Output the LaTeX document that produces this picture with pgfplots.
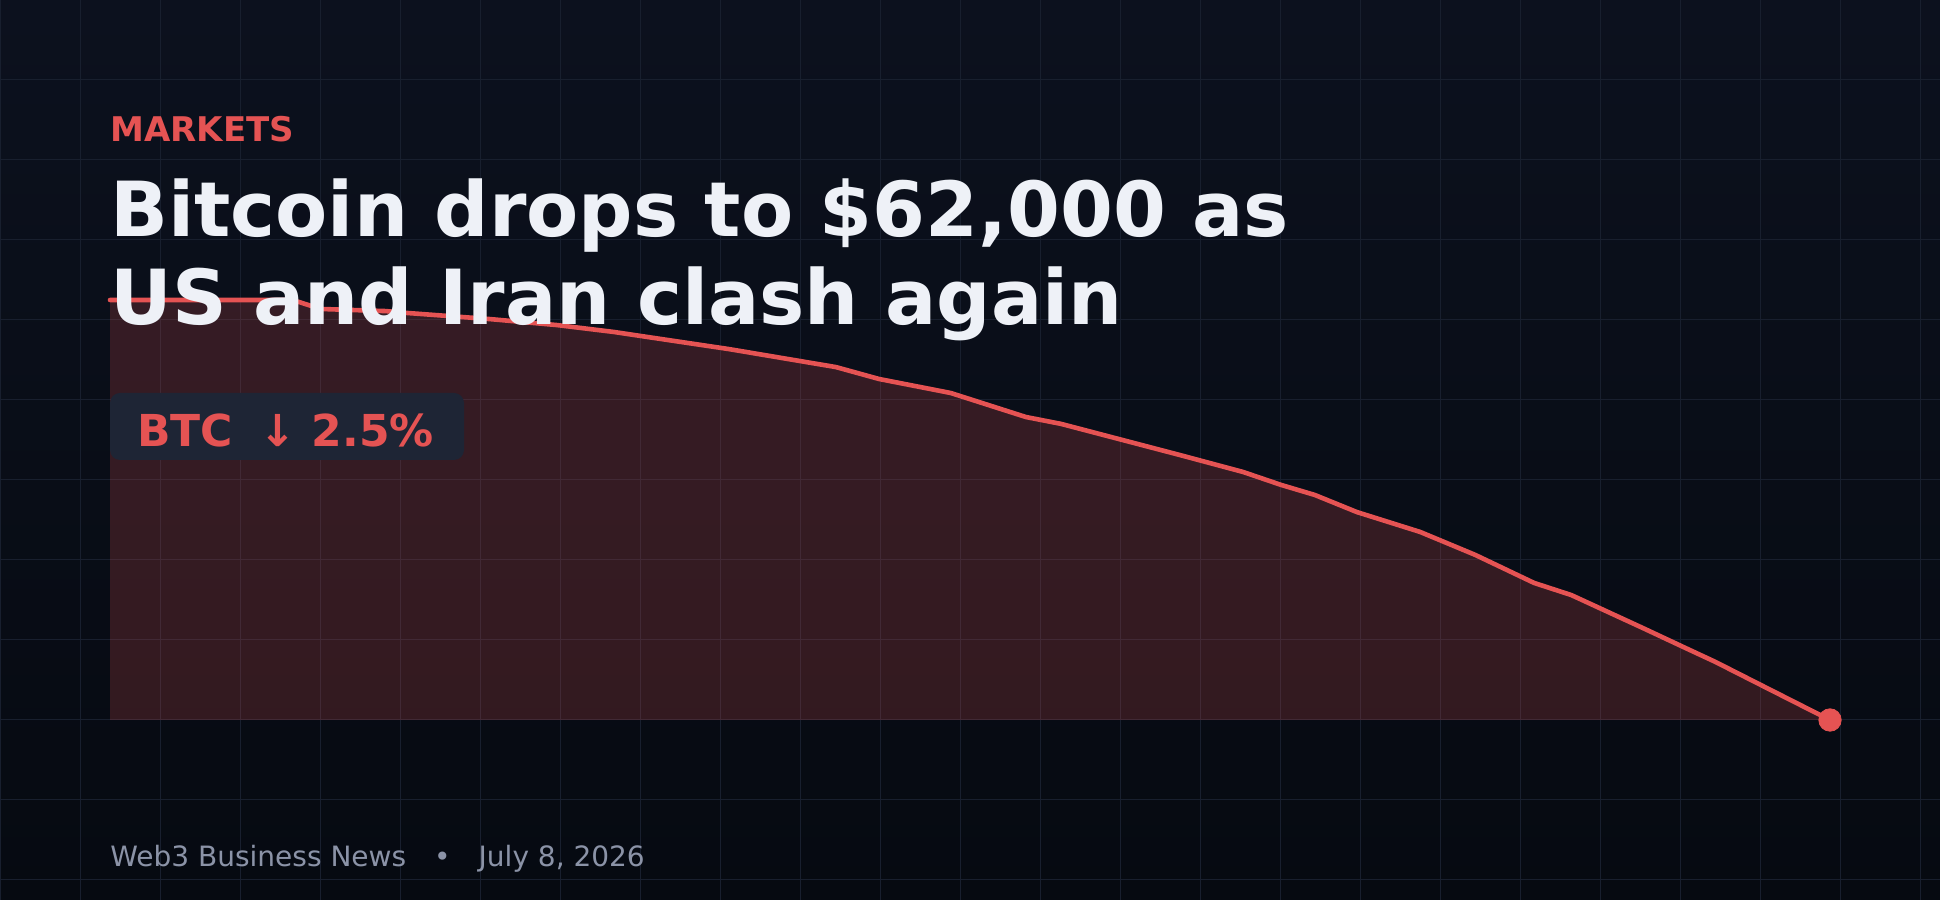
\documentclass[border=0pt]{standalone}
\usepackage{fontspec}
\setmainfont{DejaVu Sans}
\usepackage{pgfplots}
\pgfplotsset{compat=1.18}
\usepackage{pgfplotstable}

\definecolor{bgtop}{RGB}{12,17,30}
\definecolor{bgbot}{RGB}{6,10,17}
\definecolor{gridc}{RGB}{24,31,46}
\definecolor{btcred}{RGB}{229,83,83}
\definecolor{titlec}{RGB}{238,241,247}
\definecolor{badge}{RGB}{30,37,53}
\definecolor{footc}{RGB}{139,147,167}

% BTC price over the day (hours, USD)
\pgfplotstableread{
t     price
0     63590
2.55  63590
2.94  63556
3.85  63548
4.14  63541
5.29  63518
6.24  63495
7.03  63469
7.40  63454
8.64  63404
10.13 63336
10.73 63291
11.73 63238
12.78 63147
13.27 63121
14.93 63003
15.81 62939
16.34 62890
16.81 62852
17.40 62787
18.28 62712
19.05 62625
19.87 62519
20.39 62473
21.39 62348
21.98 62273
22.40 62220
23.09 62125
24    62000
}\btc

\begin{document}
\begin{tikzpicture}
\shade[top color=bgtop,bottom color=bgbot] (0pt,0pt) rectangle (970pt,450pt);
\begin{scope}
\clip (0pt,0pt) rectangle (970pt,450pt);
\foreach \gx in {0,40,...,960} \draw[gridc,line width=0.5pt] (\gx pt,0pt)--(\gx pt,450pt);
\foreach \gy in {10,50,...,450} \draw[gridc,line width=0.5pt] (0pt,\gy pt)--(970pt,\gy pt);
\end{scope}

\begin{axis}[
    at={(55pt,90pt)}, anchor=south west,
    scale only axis, width=860pt, height=210pt,
    hide axis, clip=false,
    xmin=0, xmax=24, ymin=62000, ymax=63590,
]
\addplot[draw=none, fill=btcred, fill opacity=0.2] table[x=t,y=price]{\btc} |- (axis cs:0,62000);
\addplot[btcred, line width=2.3pt, line join=round, line cap=round] table[x=t,y=price]{\btc};
\addplot[only marks, mark=*, mark size=5.6pt, btcred] coordinates {(24,62000)};
\end{axis}

\node[anchor=base west, inner sep=0, text=btcred, font=\bfseries\fontsize{17}{20}\selectfont] at (55pt,379pt) {MARKETS};
\node[anchor=base west, inner sep=0, text=titlec, font=\bfseries\fontsize{38}{44}\selectfont] at (55pt,331.5pt) {Bitcoin drops to \$62,000 as};
\node[anchor=base west, inner sep=0, text=titlec, font=\bfseries\fontsize{38}{44}\selectfont] at (55pt,287.5pt) {US and Iran clash again};
\fill[badge, rounded corners=5pt] (55pt,220pt) rectangle (232pt,253.5pt);
\node[anchor=base west, inner sep=0, text=btcred, font=\bfseries\fontsize{22}{26}\selectfont] at (68.5pt,226.5pt) {BTC\hspace{0.6em}↓ 2.5\%};
\node[anchor=base west, inner sep=0, text=footc, font=\fontsize{14}{17}\selectfont] at (55pt,16.5pt) {Web3 Business News\hspace{1em}•\hspace{1em}July 8, 2026};
\end{tikzpicture}
\end{document}
